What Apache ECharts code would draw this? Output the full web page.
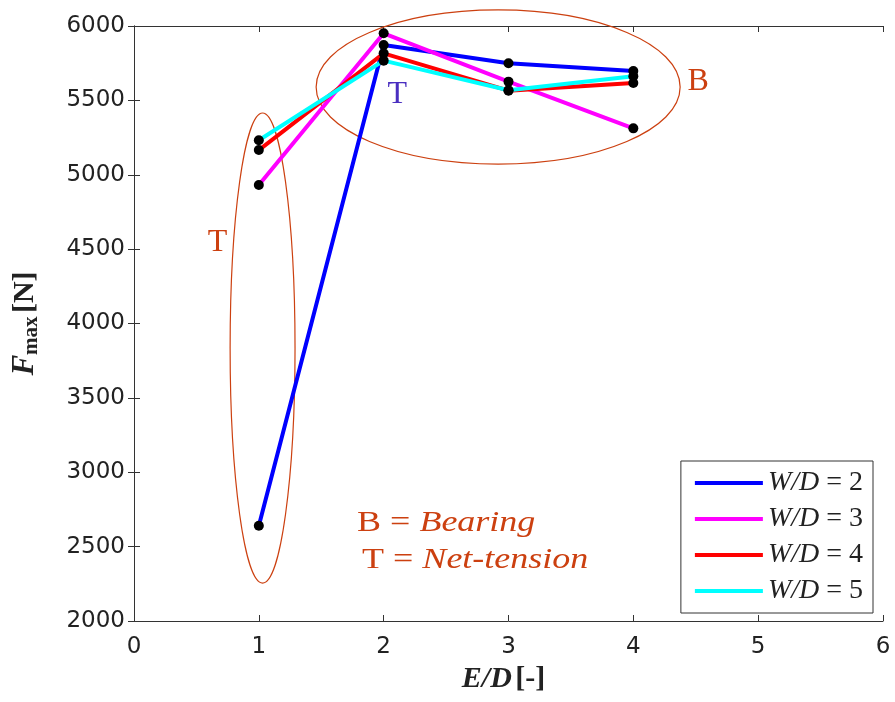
<!DOCTYPE html>
<html>
<head>
	<meta charset="utf-8">
	<title>Fmax vs E/D</title>
	<script src="https://cdn.jsdelivr.net/npm/echarts@6/dist/echarts.min.js"></script>
</head>
<body style="margin:0">
	<div id="echart" style="width:895px;height:702px"></div>
	<script>
	// E/D values
	let edValues = [1, 2, 3, 4];
	// Fmax [N] for each W/D
	let wd2 = [2640, 5872, 5749, 5697];
	let wd3 = [4931, 5951, 5626, 5312];
	let wd4 = [5166, 5816, 5565, 5617];
	let wd5 = [5232, 5767, 5568, 5662];
	let seriesNames = ['W/D = 2', 'W/D = 3', 'W/D = 4', 'W/D = 5'];
	let seriesColors = ['#0000ff', '#ff00ff', '#ff0000', '#00ffff'];
	let xTicks = [0, 1, 2, 3, 4, 5, 6];
	let yTicks = [2000, 2500, 3000, 3500, 4000, 4500, 5000, 5500, 6000];

	let serif = "'Liberation Serif', 'DejaVu Serif', serif";
	let orange = '#cc4010';
	let allData = [wd2, wd3, wd4, wd5];

	let mychart = echarts.init(document.getElementById('echart'));

	let series = [];
	allData.forEach(function (vals, i) {
		series.push({
			name: seriesNames[i],
			type: 'line',
			showSymbol: false,
			lineStyle: { width: 4, color: seriesColors[i] },
			itemStyle: { color: seriesColors[i] },
			z: 2 + i,
			data: edValues.map(function (x, k) { return [x, vals[k]]; })
		});
	});
	// black markers drawn over all lines
	allData.forEach(function (vals, i) {
		series.push({
			name: 'pts' + i,
			type: 'scatter',
			symbol: 'circle',
			symbolSize: 10,
			itemStyle: { color: '#000', opacity: 1 },
			z: 10,
			data: edValues.map(function (x, k) { return [x, vals[k]]; })
		});
	});

	let axisLine = { show: true, lineStyle: { color: '#333', width: 1 } };
	let tickStyle = { inside: true, length: 6, lineStyle: { color: '#333' } };
	let labelFont = { fontFamily: "'DejaVu Sans', sans-serif", fontSize: 23, color: '#222' };

	let option = {
		animation: false,
		backgroundColor: '#fff',
		grid: { left: 134, right: 12, top: 26, bottom: 81 },
		xAxis: [{
			type: 'value', min: xTicks[0], max: xTicks[xTicks.length - 1], interval: 1,
			axisLine: axisLine, axisTick: tickStyle, splitLine: { show: false },
			axisLabel: Object.assign({ margin: 15 }, labelFont),
			name: '{e|E/D} {b|[-]}', nameLocation: 'middle', nameGap: 43,
			nameTextStyle: { padding: [0, 10, 0, 0], rich: {
				e: { fontFamily: serif, fontSize: 30, fontWeight: 'bold', fontStyle: 'italic', color: '#222' },
				b: { fontFamily: serif, fontSize: 30, fontWeight: 'bold', color: '#222' }
			} }
		}, {
			type: 'value', min: xTicks[0], max: xTicks[xTicks.length - 1], interval: 1, position: 'top',
			axisLine: axisLine, axisTick: tickStyle, axisLabel: { show: false }, splitLine: { show: false }
		}],
		yAxis: [{
			type: 'value', min: yTicks[0], max: yTicks[yTicks.length - 1], interval: 500,
			axisLine: axisLine, axisTick: tickStyle, splitLine: { show: false },
			axisLabel: Object.assign({ margin: 9, formatter: function (v) { return String(v); } }, labelFont),
			name: '{f|F}{s|max} {n|[N]}', nameLocation: 'middle', nameGap: 92, nameRotate: 90,
			nameTextStyle: { rich: {
				f: { fontFamily: serif, fontSize: 31, fontWeight: 'bold', fontStyle: 'italic', color: '#222' },
				s: { fontFamily: serif, fontSize: 21, fontWeight: 'bold', color: '#222', verticalAlign: 'bottom', padding: [13, 0, 0, 0] },
				n: { fontFamily: serif, fontSize: 30, fontWeight: 'bold', color: '#222' }
			} }
		}, {
			type: 'value', min: yTicks[0], max: yTicks[yTicks.length - 1], interval: 500, position: 'right',
			axisLine: axisLine, axisTick: tickStyle, axisLabel: { show: false }, splitLine: { show: false }
		}],
		legend: {
			data: seriesNames.map(function (n) { return { name: n, icon: 'rect' }; }),
			orient: 'vertical',
			right: 22, top: 461,
			itemWidth: 68, itemHeight: 4, itemGap: 8,
			padding: [8, 10, 8, 14],
			borderColor: '#333', borderWidth: 1, borderRadius: 0, backgroundColor: '#fff',
			formatter: function (name) { return '{i|W/D} = ' + name.split('= ')[1]; },
			textStyle: {
				fontFamily: serif, fontSize: 28, color: '#222', lineHeight: 27,
				rich: { i: { fontFamily: serif, fontSize: 28, fontStyle: 'italic', color: '#222', lineHeight: 27 } }
			}
		},
		series: series
	};
	mychart.setOption(option);

	// annotations in data coordinates: [x, y, rx, ry]
	let ellipses = [[2.917, 5590, 1.458, 518], [1.03, 3835, 0.26, 1580]];
	let labels = [
		{ text: 'T', pos: [0.67, 4541], color: orange },
		{ text: 'T', pos: [2.11, 5536], color: '#4a2fc0' },
		{ text: 'B', pos: [4.52, 5624], color: orange }
	];
	let notes = [
		{ text: 'B = {i|Bearing}', pos: [1.787, 2659] },
		{ text: 'T = {i|Net-tension}', pos: [1.827, 2410] }
	];

	function px(p) { return mychart.convertToPixel({ gridIndex: 0 }, p); }
	let elements = [];
	ellipses.forEach(function (e) {
		let c = px([e[0], e[1]]);
		let r = px([e[0] + e[2], e[1] + e[3]]);
		elements.push({
			type: 'ellipse', z: 1,
			shape: { cx: c[0], cy: c[1], rx: r[0] - c[0], ry: c[1] - r[1] },
			style: { fill: null, stroke: orange, lineWidth: 1.2 }
		});
	});
	labels.forEach(function (l) {
		let p = px(l.pos);
		elements.push({
			type: 'text', x: p[0], y: p[1], z: 20,
			style: { text: l.text, fill: l.color, font: '32px ' + serif, align: 'center', verticalAlign: 'middle' }
		});
	});
	notes.forEach(function (n) {
		let p = px(n.pos);
		elements.push({
			type: 'text', x: p[0], y: p[1], z: 20, scaleX: 1.2,
			style: {
				text: n.text, fill: orange, font: '30px ' + serif, align: 'left', verticalAlign: 'middle',
				rich: { i: { fontStyle: 'italic', fontFamily: serif, fontSize: 30, fill: orange } }
			}
		});
	});
	mychart.setOption({ graphic: { elements: elements } });
	</script>
</body>
</html>
